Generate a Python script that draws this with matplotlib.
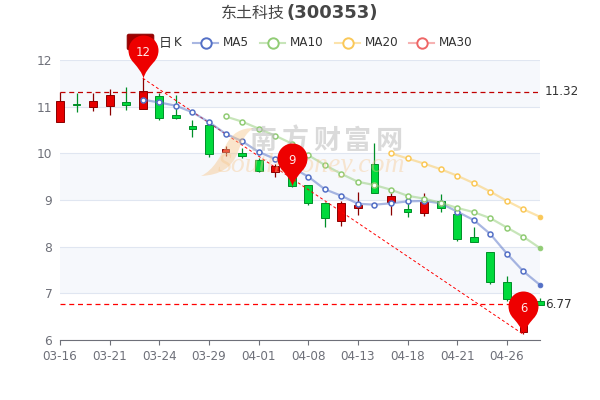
import numpy as np
import matplotlib
matplotlib.use('Agg')
import matplotlib.pyplot as plt
from matplotlib.path import Path
from matplotlib.patches import PathPatch, FancyBboxPatch
from matplotlib.lines import Line2D

cjk = ['Noto Sans CJK SC', 'DejaVu Sans']

# candles, one value per trading day
opens = [10.67, 11.06, 11.00, 11.02, 11.11, 10.95, 11.22, 10.82, 10.59, 10.60,
         10.03, 10.00, 9.85, 9.61, 9.62, 9.32, 8.94, 8.55, 8.82, 9.77,
         8.96, 8.80, 8.73, 8.97, 8.70, 8.20, 7.89, 7.24, 6.18, 6.83]
closes = [11.13, 11.03, 11.12, 11.24, 11.03, 11.33, 10.75, 10.75, 10.52, 9.99,
          10.10, 9.95, 9.62, 9.72, 9.29, 8.93, 8.61, 8.93, 8.89, 9.16,
          9.08, 8.75, 8.95, 8.83, 8.17, 8.11, 7.24, 6.87, 6.83, 6.76]
highs = [11.32, 11.29, 11.30, 11.38, 11.42, 11.61, 11.30, 11.26, 10.72, 10.60,
         10.16, 10.11, 9.90, 9.78, 9.75, 9.33, 8.96, 8.97, 9.17, 10.22,
         9.16, 9.00, 9.15, 9.13, 8.72, 8.43, 7.89, 7.37, 6.85, 6.91]
lows = [10.67, 10.89, 10.91, 10.82, 10.93, 10.95, 10.71, 10.73, 10.36, 9.93,
        9.95, 9.89, 9.60, 9.50, 9.27, 8.90, 8.43, 8.44, 8.68, 9.15,
        8.67, 8.64, 8.66, 8.75, 8.13, 8.11, 7.19, 6.84, 6.12, 6.74]

ma5 = [11.15, 11.09, 11.02, 10.88, 10.67, 10.42, 10.26, 10.03, 9.88, 9.70,
       9.50, 9.23, 9.09, 8.92, 8.90, 8.93, 8.97, 8.98, 8.93, 8.75,
       8.57, 8.27, 7.85, 7.47, 7.18]
ma10 = [10.79, 10.68, 10.53, 10.38, 10.21, 9.96, 9.75, 9.56, 9.39, 9.32,
        9.22, 9.09, 9.03, 8.94, 8.83, 8.74, 8.61, 8.41, 8.21, 7.97]
ma20 = [10.00, 9.89, 9.78, 9.66, 9.52, 9.36, 9.18, 8.98, 8.80, 8.64]

tick_idx = [0, 3, 6, 9, 12, 15, 18, 21, 24, 27]
tick_labels = ['03-16', '03-21', '03-24', '03-29', '04-01',
               '04-08', '04-13', '04-18', '04-21', '04-26']

mark_high = 11.32
mark_low = 6.77
pin_idx = [5, 14, 28]
pin_val = [11.61, 9.29, 6.12]
pin_txt = ['12', '9', '6']
trend_idx = [5, 28]
trend_val = [11.61, 6.12]

fig = plt.figure(figsize=(6, 4), dpi=100)
ax = fig.add_axes([60/600, 60/400, 480/600, 280/400])
ax.set_xlim(0, 29)
ax.set_ylim(6, 12)

def fx(px):
    return px/600.

def fy(py):
    return 1 - py/400.

# split areas and lines
for lo in [7, 9, 11]:
    ax.axhspan(lo, lo+1, facecolor='#f6f8fc', edgecolor='none', zorder=0)
ax.set_yticks(range(6, 13))
ax.yaxis.grid(True, color='#e0e6f1', lw=0.8, zorder=1)
ax.set_axisbelow(True)
for s in ['top', 'left', 'right']:
    ax.spines[s].set_visible(False)
ax.spines['bottom'].set_color('#6e7079')
ax.spines['bottom'].set_linewidth(0.8)
ax.tick_params(axis='y', length=0, labelsize=8.8, labelcolor='#6e7079', pad=5.5)
ax.tick_params(axis='x', length=3.6, width=0.8, color='#6e7079', labelsize=8.64,
               labelcolor='#6e7079', pad=3.6)
ax.set_xticks(tick_idx)
ax.set_xticklabels(tick_labels)

# candles
x = np.arange(len(opens))
o = np.array(opens)
c = np.array(closes)
up = c >= o
for mask, fc, ec in [(up, '#e60000', '#8a0000'), (~up, '#00da3c', '#008f28')]:
    ax.vlines(x[mask], np.array(lows)[mask], np.array(highs)[mask], color=ec, lw=0.9,
              zorder=3, clip_on=False)
    ax.bar(x[mask], (c-o)[mask], bottom=o[mask], width=0.47, color=fc, edgecolor=ec,
           linewidth=0.7, zorder=3, clip_on=False)

# mark lines
ax.plot([0, 29], [mark_high, mark_high], color='#c00000', lw=0.9, dashes=(4, 3), zorder=4)
ax.plot([0, 29], [mark_low, mark_low], color='#ff0000', lw=0.9, dashes=(4, 3), zorder=2.5)
ax.plot(trend_idx, trend_val, color='#ff0000', lw=0.7, dashes=(3, 2.5), zorder=4)
ax.annotate('%.2f' % mark_high, (29, mark_high), xytext=(3.6, 0), textcoords='offset points',
            va='center', ha='left', fontsize=8.64, color='#333333')
ax.annotate('%.2f' % mark_low, (29, mark_low), xytext=(3.6, 0), textcoords='offset points',
            va='center', ha='left', fontsize=8.64, color='#333333')

# moving averages, starting where the window is full
for vals, start, col in [(ma5, 5, '#5470c6'), (ma10, 10, '#91cc75'), (ma20, 20, '#fac858')]:
    xs = np.arange(start, start+len(vals))
    ax.plot(xs, vals, color=col, lw=1.6, alpha=0.5, zorder=5, clip_on=False)
    ax.plot(xs[:-1], vals[:-1], ls='none', marker='o', ms=3.6, mfc='white', mec=col, mew=1.1,
            zorder=6, clip_on=False)
    ax.plot(xs[-1:], vals[-1:], ls='none', marker='o', ms=3.4, mfc=col, mec=col, mew=0.6,
            zorder=6, clip_on=False)

# watermark
moon_v = [(201, 176), (214, 170), (221, 155), (226, 145), (232, 133), (241, 128), (254, 128),
          (245, 133), (241, 143), (238, 152), (232, 168), (220, 175), (201, 176)]
moon_c = [Path.MOVETO] + [Path.CURVE4]*12
moon = Path([(fx(a), fy(b)) for a, b in moon_v], moon_c)
ax.add_patch(PathPatch(moon, transform=fig.transFigure, facecolor='#f6c78c', edgecolor='none',
                       alpha=0.45, zorder=7, clip_on=False))
for i, ch in enumerate('南方财富网'):
    ax.text(fx(263.5+i*31.5), fy(141), ch, transform=fig.transFigure, family=cjk, fontsize=19.5,
            fontweight='bold', color='#bdbdbd', alpha=0.55, ha='center', va='center', zorder=7)
ax.text(fx(311), fy(166), 'Southmoney.com', transform=fig.transFigure, family='Liberation Serif',
        style='italic', fontsize=20, color='#f6c78c', alpha=0.4, ha='center', va='center', zorder=7)

# legend
ax.add_patch(FancyBboxPatch((fx(129), fy(48)), fx(23), 12/400., boxstyle='round,pad=0.003',
                            transform=fig.transFigure, mutation_aspect=1.5, facecolor='#a00000',
                            edgecolor='#8a0000', lw=0.7, zorder=8, clip_on=False))
fig.text(fx(158.5), fy(43), '日', family=cjk, fontsize=9.4, color='#333333', va='center')
fig.text(fx(173.5), fy(43), 'K', fontsize=8.64, color='#333333', va='center')
for name, left, col in [('MA5', 193, '#5470c6'), ('MA10', 260, '#91cc75'),
                        ('MA20', 335, '#fac858'), ('MA30', 409, '#ee6666')]:
    fig.add_artist(Line2D([fx(left), fx(left+25)], [fy(43), fy(43)], transform=fig.transFigure,
                          color=col, lw=1.5, alpha=0.5))
    fig.add_artist(Line2D([fx(left+12.5)], [fy(43)], transform=fig.transFigure, marker='o', ms=7.5,
                          mfc='white', mec=col, mew=1.4, ls='none'))
    fig.text(fx(left+30), fy(43), name, fontsize=8.64, color='#333333', va='center')

# pins, tip of the path is the origin
pin_v = [(0, 0), (1.5, 6), (5, 10), (10, 16), (13.5, 19.5), (15, 24), (15, 28),
         (15, 36.3), (8.3, 43), (0, 43), (-8.3, 43), (-15, 36.3), (-15, 28),
         (-15, 24), (-13.5, 19.5), (-10, 16), (-5, 10), (-1.5, 6), (0, 0)]
pin_c = [Path.MOVETO] + [Path.CURVE4]*18
pin = Path(pin_v, pin_c)
for i, v, t in zip(pin_idx, pin_val, pin_txt):
    ax.plot([i], [v], marker=pin, ms=43*2*0.72, mfc='#ee0000', mec='none', ls='none', zorder=10,
            clip_on=False)
    ax.annotate(t, (i, v), xytext=(0, 18.7), textcoords='offset points', ha='center', va='center',
                fontsize=8.4, color='#ffe9e9', zorder=11)

# title
fig.text(fx(285), fy(13), '东土科技', family=cjk, fontsize=11.5, color='#464646', ha='right', va='center')
fig.text(fx(286), fy(13), '(300353)', fontsize=13, fontweight='bold', color='#464646', ha='left', va='center')

fig.savefig('out.png', dpi=100)
